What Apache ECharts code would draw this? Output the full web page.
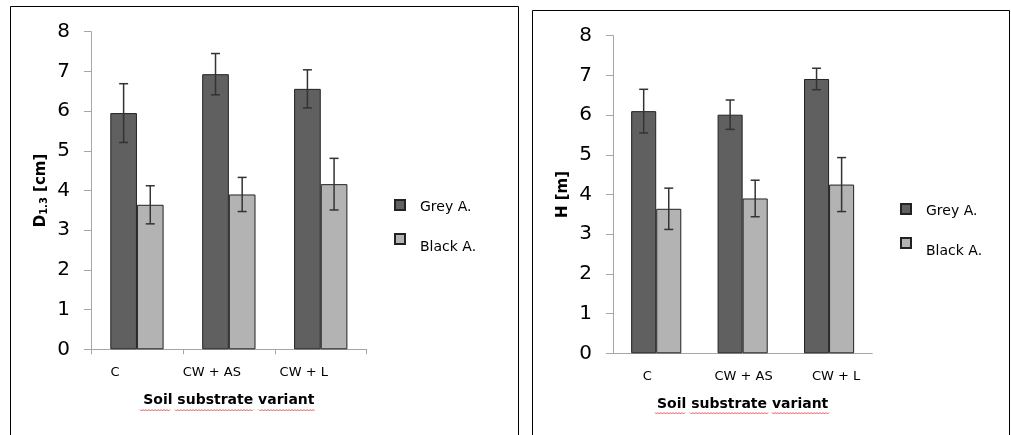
<!DOCTYPE html>
<html><head><meta charset="utf-8">
<script src="https://cdn.jsdelivr.net/npm/echarts@6/dist/echarts.min.js"></script>
<style>html,body{margin:0;padding:0;background:#fff}#c{width:1011px;height:435px}</style>
</head><body><div id="c"></div><script>
// ---- data ----
const categories = ['C', 'CW + AS', 'CW + L'];
const seriesNames = ['Grey A.', 'Black A.'];
const d13Grey = [5.95, 6.93, 6.56];
const d13GreyErr = [0.74, 0.52, 0.48];
const d13Black = [3.64, 3.90, 4.16];
const d13BlackErr = [0.48, 0.43, 0.65];
const hGrey = [6.10, 6.01, 6.91];
const hGreyErr = [0.55, 0.37, 0.27];
const hBlack = [3.64, 3.90, 4.25];
const hBlackErr = [0.52, 0.46, 0.68];
const xTitle = 'Soil substrate variant';

// ---- style ----
const FONT = 'DejaVu Sans';
const AXIS_C = '#a6a6a6';
const DARK = '#606060', LIGHT = '#b3b3b3';
const BAR_FRAC = 0.29;

function errData(vals, errs) { return vals.map((v, i) => [i, v - errs[i], v + errs[i]]); }
function errRenderer(side) {
  return function (params, api) {
    const i = api.value(0);
    const bw = api.size([1, 0])[0];
    const off = side * bw * BAR_FRAC / 2;
    const lo = api.coord([i, api.value(1)]);
    const hi = api.coord([i, api.value(2)]);
    const x = lo[0] + off, cap = 4.5;
    const st = { stroke: '#333', lineWidth: 1.5 };
    return { type: 'group', children: [
      { type: 'line', shape: { x1: x, y1: lo[1], x2: x, y2: hi[1] }, style: st },
      { type: 'line', shape: { x1: x - cap, y1: lo[1], x2: x + cap, y2: lo[1] }, style: st },
      { type: 'line', shape: { x1: x - cap, y1: hi[1], x2: x + cap, y2: hi[1] }, style: st }
    ]};
  };
}
function wave(x1, x2, y) {
  const pts = []; let k = 0;
  for (let x = x1; x <= x2; x += 1.5, k++) pts.push([x, y + (k % 2 ? 1 : -0.5)]);
  return { type: 'polyline', shape: { points: pts }, style: { stroke: '#e03030', lineWidth: 0.8, fill: null }, silent: true };
}
function yAxisCfg(idx, nameText, rich) {
  return {
    type: 'value', gridIndex: idx, min: 0, max: 8, interval: 1,
    axisLine: { show: true, lineStyle: { color: AXIS_C } },
    axisTick: { show: true, length: 7, lineStyle: { color: AXIS_C } },
    splitLine: { show: false },
    axisLabel: { fontSize: 20, color: '#000', margin: 21, fontFamily: FONT },
    name: nameText, nameLocation: 'middle', nameGap: 42,
    nameTextStyle: { rich: rich }
  };
}
const nameRich = {
  a: { fontSize: 15, fontWeight: 'bold', fontFamily: FONT, color: '#000' },
  b: { fontSize: 10, fontWeight: 'bold', fontFamily: FONT, color: '#000', verticalAlign: 'bottom' }
};
function xAxisCfg(idx, ticks, shifts) {
  const rich = {};
  shifts.forEach((s, i) => {
    rich['s' + i] = { fontSize: 13, fontFamily: FONT, color: '#000',
      padding: s < 0 ? [0, -2 * s, 0, 0] : [0, 0, 0, 2 * s] };
  });
  return {
    type: 'category', gridIndex: idx, data: categories,
    axisLine: { show: true, lineStyle: { color: AXIS_C } },
    axisTick: { show: ticks, length: 5, lineStyle: { color: AXIS_C } },
    axisLabel: { interval: 0, margin: 17, formatter: (v, i) => '{s' + i + '|' + v + '}', rich: rich },
    name: xTitle, nameLocation: 'middle', nameGap: 44,
    nameTextStyle: { fontSize: 14, fontWeight: 'bold', fontFamily: FONT, color: '#000' }
  };
}
function bar(name, color, data, idx) {
  return { type: 'bar', name: name, xAxisIndex: idx, yAxisIndex: idx, data: data,
    barWidth: (BAR_FRAC * 100) + '%', barGap: '0%',
    itemStyle: { color: color, borderColor: '#222', borderWidth: 1 } };
}
function err(data, idx, side) {
  return { type: 'custom', xAxisIndex: idx, yAxisIndex: idx, data: data, z: 10, silent: true,
    encode: { x: 0, y: [1, 2] }, renderItem: errRenderer(side) };
}
const legendRich = {
  g: { fontSize: 14, fontFamily: FONT, color: '#000', padding: [4, 0, 0, 10] },
  k: { fontSize: 14, fontFamily: FONT, color: '#000', padding: [16, 0, 0, 10] }
};
function legendCfg(left, top) {
  return { orient: 'vertical', left: left, top: top, itemWidth: 10, itemHeight: 10, itemGap: 19,
    icon: 'rect', data: seriesNames,
    formatter: n => (n === seriesNames[0] ? '{g|' : '{k|') + n + '}',
    textStyle: { rich: legendRich } };
}

const chart = echarts.init(document.getElementById('c'));
chart.setOption({
  animation: false,
  grid: [
    { left: 91, top: 31.7, width: 275.7, height: 317.6 },
    { left: 613, top: 35.7, width: 259.3, height: 317.6 }
  ],
  xAxis: [xAxisCfg(0, true, [-22, -17, -17]), xAxisCfg(1, false, [-9, 1, 7])],
  yAxis: [
    yAxisCfg(0, '{a|D}{b|1.3}{a| [cm]}', nameRich),
    yAxisCfg(1, '{a|H [m]}', nameRich)
  ],
  legend: [legendCfg(389, 194), legendCfg(895, 198)],
  series: [
    bar(seriesNames[0], DARK, d13Grey, 0),
    bar(seriesNames[1], LIGHT, d13Black, 0),
    bar(seriesNames[0], DARK, hGrey, 1),
    bar(seriesNames[1], LIGHT, hBlack, 1),
    err(errData(d13Grey, d13GreyErr), 0, -1),
    err(errData(d13Black, d13BlackErr), 0, 1),
    err(errData(hGrey, hGreyErr), 1, -1),
    err(errData(hBlack, hBlackErr), 1, 1)
  ],
  graphic: [
    { type: 'rect', shape: { x: 10.5, y: 6.5, width: 508, height: 440 }, style: { stroke: '#000', fill: null, lineWidth: 1 }, silent: true },
    { type: 'rect', shape: { x: 532.5, y: 10.5, width: 477, height: 440 }, style: { stroke: '#000', fill: null, lineWidth: 1 }, silent: true },
    wave(140, 171, 410), wave(175, 254, 410), wave(259, 315, 410),
    wave(655, 686, 413), wave(690, 768, 413), wave(772, 830, 413)
  ]
});
</script></body></html>
